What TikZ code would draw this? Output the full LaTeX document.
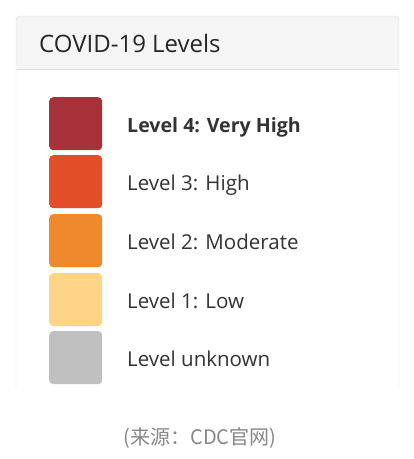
\documentclass[tikz,border=0pt]{standalone}
\usepackage{fontspec}
\setmainfont{Open Sans}
\newfontfamily\cjk{Noto Sans CJK SC}
\usepackage{tikz}
\usetikzlibrary{positioning}
\definecolor{lvfour}{RGB}{168,50,58}
\definecolor{lvthree}{RGB}{226,78,40}
\definecolor{lvtwo}{RGB}{239,137,46}
\definecolor{lvone}{RGB}{254,212,135}
\definecolor{lvnone}{RGB}{192,192,192}
\definecolor{panelline}{RGB}{221,221,221}
\definecolor{panelhead}{RGB}{245,245,245}
\definecolor{inktext}{RGB}{51,51,51}

\begin{document}
\begin{tikzpicture}[x=1pt,y=-1pt,
  swatch/.style={rounded corners=4pt, minimum width=53pt, minimum height=53pt, inner sep=0pt, anchor=north west},
  lvtext/.style={anchor=base west, inner sep=0pt, text=inktext, font=\fontsize{20.5}{24}\selectfont},
  source/.style={anchor=base, inner sep=0pt, text=black!47, font=\cjk\fontsize{20}{24}\selectfont}
  ]
  \useasboundingbox[fill=white] (0,0) rectangle (414,459);

  % panel with header
  \fill[panelhead, rounded corners=4pt] (16,69) -- (16,16) -- (399,16) -- (399,69) -- cycle;
  \draw[panelline, rounded corners=4pt] (16,387) -- (16,16) -- (399,16) -- (399,387);
  \draw[panelline] (16,69) -- (399,69);
  \node[anchor=base west, inner sep=0pt, text=black!85, font=\fontsize{24}{28}\selectfont] (title) at (39,52) {COVID-19 Levels};

  % swatches
  \node[swatch, fill=lvfour]  (s4) at (49,97)  {};
  \node[swatch, fill=lvthree] (s3) at (49,155) {};
  \node[swatch, fill=lvtwo]   (s2) at (49,214) {};
  \node[swatch, fill=lvone]   (s1) at (49,273) {};
  \node[swatch, fill=lvnone]  (s0) at (49,331) {};

  % labels
  \node[lvtext, font=\fontsize{19.6}{24}\selectfont\bfseries] (t4) at (127,132.5) {Level 4: Very High};
  \node[lvtext] (t3) at (127,190.5) {Level 3: High};
  \node[lvtext] (t2) at (127,249) {Level 2: Moderate};
  \node[lvtext] (t1) at (127,308) {Level 1: Low};
  \node[lvtext] (t0) at (127,366) {Level unknown};

  \node[source] (src) at (200,444) {(来源：CDC官网)};
\end{tikzpicture}
\end{document}
